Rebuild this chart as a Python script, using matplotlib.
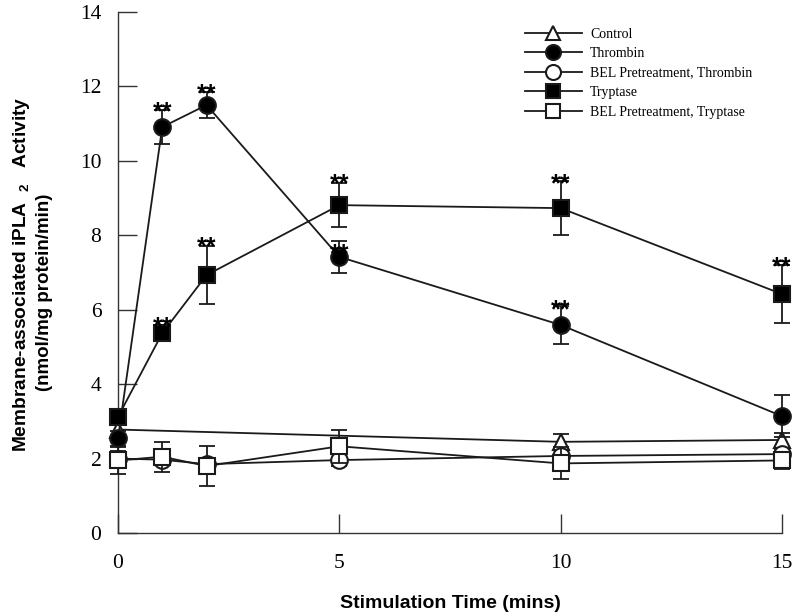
import matplotlib
matplotlib.use("Agg")
import matplotlib.pyplot as plt
import numpy as np

plt.rcParams['mathtext.fontset'] = 'custom'
plt.rcParams['mathtext.rm'] = 'Liberation Sans:bold'
plt.rcParams['mathtext.bf'] = 'Liberation Sans:bold'

# --- data ---
t_full = [0, 1, 2, 5, 10, 15]

t_control = [0, 10, 15]
control = [2.78, 2.45, 2.50]
control_err = [0.20, 0.20, 0.20]

thrombin = [2.55, 10.91, 11.50, 7.42, 5.59, 3.14]
thrombin_err = [0.20, 0.45, 0.35, 0.43, 0.50, 0.57]

bel_thrombin = [2.00, 1.97, 1.85, 1.96, 2.07, 2.12]
bel_thrombin_err = [0.20, 0.15, 0.15, 0.15, 0.15, 0.15]

tryptase = [3.12, 5.37, 6.93, 8.81, 8.73, 6.42]
tryptase_err = [0.20, 0.20, 0.78, 0.60, 0.73, 0.77]

bel_tryptase = [1.95, 2.05, 1.80, 2.33, 1.87, 1.95]
bel_tryptase_err = [0.37, 0.40, 0.55, 0.45, 0.43, 0.22]

# significance marks (x, y of the bottom of the stars)
star_t = [1, 2, 5, 10, 1, 2, 5, 10, 15]
star_y = [11.37, 11.85, 7.55, 6.05, 5.59, 7.74, 9.43, 9.43, 7.20]

fig = plt.figure(figsize=(8, 6.16), dpi=100)
ax = fig.add_axes([118/800, 83/616, 664/800, 521/616])

series = [
    ("Control", t_control, control, control_err, '^', 'white'),
    ("Thrombin", t_full, thrombin, thrombin_err, 'o', 'black'),
    ("BEL Pretreatment, Thrombin", t_full, bel_thrombin, bel_thrombin_err, 'o', 'white'),
    ("Tryptase", t_full, tryptase, tryptase_err, 's', 'black'),
    ("BEL Pretreatment, Tryptase", t_full, bel_tryptase, bel_tryptase_err, 's', 'white'),
]

z = 3
for name, t, y, e, mk, fc in series:
    ax.errorbar(t, y, yerr=e, fmt='none', ecolor='#1a1a1a', elinewidth=1.3,
                capsize=5.8, capthick=1.3, zorder=z, clip_on=False)
    ms = 12 if mk == 'o' else 11
    ax.plot(t, y, color='#1a1a1a', lw=1.3, marker=mk, ms=ms, mfc=fc,
            mec='#1a1a1a', mew=1.5, label=name, zorder=z + 0.5, clip_on=False)
    z += 1

for tx, ty in zip(star_t, star_y):
    ax.annotate("**", (tx, ty), xytext=(0, -7), textcoords='offset points',
                ha='center', va='baseline', fontsize=18, fontweight='bold',
                family='Liberation Sans', zorder=20, annotation_clip=False)

ax.set_xlim(0, 15)
ax.set_ylim(0, 14)
ax.set_xticks([0, 5, 10, 15])
ax.set_yticks(range(0, 15, 2))
ax.spines['top'].set_visible(False)
ax.spines['right'].set_visible(False)
for s in ['left', 'bottom']:
    ax.spines[s].set_linewidth(1.0)
    ax.spines[s].set_color('#333333')
ax.tick_params(direction='in', length=14, width=1.0, color='#333333', pad=12,
               labelsize=15.5)
ax.tick_params(axis='x', pad=15)
for lab in ax.get_xticklabels() + ax.get_yticklabels():
    lab.set_family('Liberation Serif')

ax.set_xlabel("Stimulation Time (mins)", fontsize=14, fontweight='bold',
              family='Liberation Sans', labelpad=16)

fig.text(22/800, 1 - 274/616, r"Membrane-associated iPLA  $_2$   Activity",
         rotation=90, ha='center', va='center', fontsize=13.8,
         fontweight='bold', family='Liberation Sans')
fig.text(45/800, 1 - 292/616, "(nmol/mg protein/min)",
         rotation=90, ha='center', va='center', fontsize=13.5,
         fontweight='bold', family='Liberation Sans')

leg = ax.legend(loc='upper left', bbox_to_anchor=(525/800, 1 - 27.5/616),
                bbox_transform=fig.transFigure, frameon=False, numpoints=1,
                handlelength=4.1, handletextpad=0.6, labelspacing=0.47,
                borderpad=0, borderaxespad=0, markerscale=0.9,
                prop={'family': 'Liberation Serif', 'size': 10})

fig.savefig("out.png", dpi=100)
